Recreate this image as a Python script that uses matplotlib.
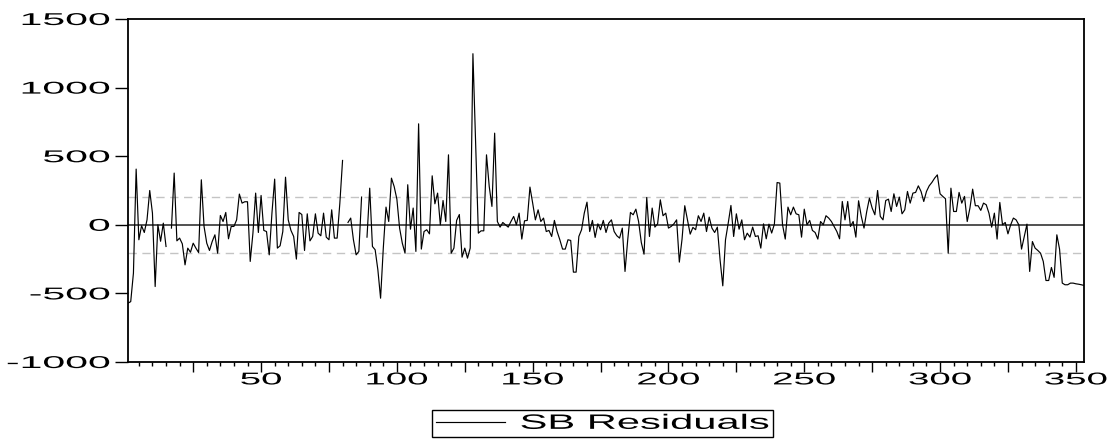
#residual plot
import numpy as np
import matplotlib
matplotlib.use('Agg')
import matplotlib.pyplot as plt
import matplotlib.patheffects as pe
from matplotlib.transforms import Affine2D

nan = np.nan

#residual values (obs 1..353), gaps are nan
resid_part1 = [-571, -560, -352, 406, -109, -7, -56, 36, 250, 85,
               -450, 0, -120, 12, -158, nan, -24, 377, -117, -97,
               -139, -292, -170, -200, -134, -170, -202, 328, -12, -134,
               -187, -122, -73, -207, 68, 24, 90, -102, -12, -12,
               36, 224, 158, 168, 168, -267, -61, 231, -56, 214,
               -41, -49, -219, 85, 333, -170, -153, -49, 347, 36,
               -41, -85, -250, 90, 75, -187, 80, -117, -85, 80,
               -61, -80, 85, -90, -109, 109, -97, -97, 158, 469,
               nan, 17, 49, -109, -219, -194, 202, nan, -90, 267,
               -158, -182, -328, -535, -170, 129, 24, 340, 279, 187,
               -24, -134, -207, 292, -32, 122, -194, 736, -177, -49,
               -36, -66, 357, 153, 231, 0, 177]
resid_part2 = [24, 510, -207, -170, 32, 75, -236, -170, -243, -170,
               1247, 590, -61, -44, -44, 510, 280, 134, 668, 24,
               -17, 17, 0, -17, 24, 61, 0, 85, -104, 29,
               32, 275, 158, 36, 109, 24, 49, -49, -41, -85,
               32, -49, -109, -177, -177, -109, -114, -345, -345,
               -85, -36, 85, 165, -49, 32, -92, 7, -36, 32,
               -56, 12, 36, -49, -80, -97, -24, -340, -109, 90,
               73, 114, 24, -129, -214, 199, -85, 122, -17, 7,
               182, 66, 85, -24, -12, 7, 36, -272, -104, 139,
               36, -68, -19, -36, 66, 24, 85, -49, 56, -24,
               -56, -17, -255, -445, -109, 12, 141, -85, 80, -32,
               36, -109, -61, -90, -17, -85, -80, -170, 7, -102]
resid_part3 = [5, -60, 5, 308, 304, 0, -104, 129, 73,
               129, 80, 73, -90, 114, 0, 32, -41, -56, -104,
               24, 0, 66, 49, 24, -12, -49, -102, 170,
               36, 170, -12, 24, -90, 175, 61, -24, 97, 194,
               122, 73, 250, 61, 36, 177, 187, 97, 226, 134,
               202, 80, 109, 243, 158, 231, 236, 284, 243, 170,
               243, 284, 309, 340, 364, 226, 207, 190, -207, 267,
               97, 97, 236, 158, 207, 24, 122, 260, 139, 139,
               105, 158, 146, 85, -17, 85, -104, 163, 0, 17,
               -66, 0, 49, 36, 0, -177, -85, 5, -340, -122,
               -170, -187, -207, -267, -406, -406, -311, -383, -73, -177,
               -425, -437, -437, -425, -425, -430, -433, -437, -442]
resid = np.array(resid_part1 + resid_part2 + resid_part3, dtype=float)
obs = np.arange(1, len(resid) + 1)
band = 202  #dashed band level
series_label = 'SB Residuals'


#stretch text sideways (the original uses a very wide font)
class Stretch(pe.AbstractPathEffect):
    def __init__(self, sx, anchor='center'):
        super().__init__()
        self.sx = sx
        self.anchor = anchor

    def draw_path(self, renderer, gc, tpath, affine, rgbFace=None):
        bb = tpath.get_extents(affine)
        if self.anchor == 'left':
            x0 = bb.x0
        elif self.anchor == 'right':
            x0 = bb.x1
        else:
            x0 = (bb.x0 + bb.x1) / 2
        st = Affine2D().translate(-x0, 0).scale(self.sx, 1).translate(x0, 0)
        renderer.draw_path(gc, tpath, affine + st, rgbFace)


plt.rcParams['font.family'] = ['Liberation Sans', 'DejaVu Sans']
plt.rcParams['axes.unicode_minus'] = False

fig = plt.figure(figsize=(11.15, 4.42), dpi=100)
ax = fig.add_axes([128 / 1115, 1 - 362 / 442, 956 / 1115, 343 / 442])

#reference lines
ax.axhline(0, color='#333333', lw=1.2, zorder=1)
ax.axhline(band, color='#c4c4c4', lw=1, ls=(0, (6, 4)), zorder=1)
ax.axhline(-band, color='#c4c4c4', lw=1, ls=(0, (6, 4)), zorder=1)

line, = ax.plot(obs, resid, color='black', lw=0.85, label=series_label, zorder=2)

ax.set_xlim(1, 353)
ax.set_ylim(-1000, 1500)

#y axis
ax.set_yticks(np.arange(-1000, 1501, 500))
ax.tick_params(axis='y', direction='out', length=9.5, width=1, pad=3.6,
               labelsize=12.3, left=True, right=False)
#x axis
xt = np.arange(25, 351, 25)
ax.set_xticks(xt)
ax.set_xticklabels([str(v) if v % 50 == 0 else '' for v in xt])
ax.set_xticks(np.arange(5, 353, 5), minor=True)
ax.tick_params(axis='x', which='major', direction='out', length=7, width=1,
               pad=0.5, labelsize=12.3, top=False)
ax.tick_params(axis='x', which='minor', direction='out', length=3, width=1, top=False)

for s in ax.spines.values():
    s.set_linewidth(1.3)
    s.set_color('black')

for lbl in ax.get_yticklabels():
    lbl.set_path_effects([Stretch(2.4, 'right')])
for lbl in ax.get_xticklabels():
    lbl.set_path_effects([Stretch(2.25, 'center')])

#legend below the plot
leg = fig.legend(handles=[line], labels=[series_label], loc='lower left',
                 bbox_to_anchor=(432 / 1115, 5 / 442, 341 / 1115, 0.05),
                 mode='expand', borderaxespad=0, fontsize=15, handlelength=3.3,
                 handletextpad=0.75, borderpad=0.2, fancybox=False, framealpha=1)
leg.get_frame().set_edgecolor('black')
leg.get_frame().set_linewidth(1)
for t in leg.get_texts():
    t.set_path_effects([Stretch(2.0, 'left')])

plt.savefig('out.png', dpi=100)
plt.close()
